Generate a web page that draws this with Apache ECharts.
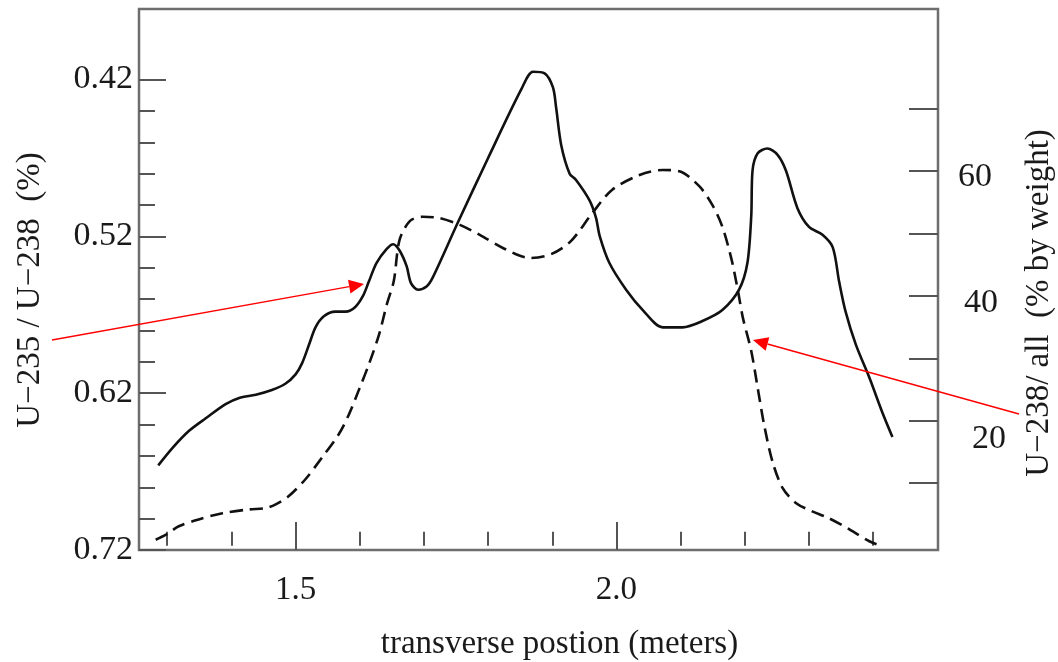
<!doctype html>
<html>
<head>
    <meta charset="utf-8">
    <title>U-235 / U-238 transverse profile</title>
    <style>
        html, body { margin: 0; padding: 0; background: #fff; }
        #chart { width: 1058px; height: 662px; }
    </style>
</head>
<body>
<div id="chart"></div>
<script src="https://cdn.jsdelivr.net/npm/echarts@6/dist/echarts.min.js"></script>
<script>
    // U-235 / U-238 ratio (solid line, left axis, inverted)
    var ratioX = [1.286, 1.308, 1.334, 1.360, 1.391, 1.412, 1.438, 1.463, 1.484, 1.500,
        1.510, 1.521, 1.531, 1.544, 1.562, 1.578, 1.593, 1.605, 1.614, 1.626,
        1.642, 1.652, 1.662, 1.673, 1.680, 1.691, 1.704, 1.714, 1.753, 1.800,
        1.852, 1.870, 1.888, 1.901, 1.906, 1.914, 1.927, 1.937, 1.958, 1.968,
        1.974, 1.989, 2.015, 2.041, 2.072, 2.103, 2.134, 2.165, 2.191, 2.204,
        2.210, 2.212, 2.220, 2.235, 2.251, 2.264, 2.282, 2.300, 2.321, 2.337,
        2.347, 2.357, 2.373, 2.394, 2.414, 2.430];
    var ratioY = [0.666, 0.655, 0.644, 0.636, 0.627, 0.623, 0.621, 0.618, 0.614, 0.608,
        0.601, 0.589, 0.578, 0.571, 0.568, 0.568, 0.565, 0.558, 0.549, 0.537,
        0.528, 0.525, 0.529, 0.539, 0.550, 0.554, 0.552, 0.546, 0.511, 0.470,
        0.426, 0.415, 0.416, 0.425, 0.438, 0.462, 0.480, 0.484, 0.497, 0.508,
        0.520, 0.537, 0.554, 0.567, 0.578, 0.578, 0.574, 0.567, 0.554, 0.537,
        0.507, 0.478, 0.467, 0.464, 0.468, 0.478, 0.502, 0.514, 0.519, 0.527,
        0.549, 0.568, 0.589, 0.610, 0.632, 0.648];

    // U-238 share of all, % by weight (dashed line, right axis)
    var shareX = [1.282, 1.298, 1.318, 1.349, 1.386, 1.427, 1.453, 1.469, 1.489, 1.515,
        1.541, 1.567, 1.583, 1.598, 1.614, 1.630, 1.642, 1.653, 1.662, 1.678,
        1.698, 1.724, 1.756, 1.787, 1.823, 1.865, 1.898, 1.929, 1.961, 1.993,
        2.036, 2.072, 2.098, 2.129, 2.150, 2.165, 2.179, 2.189, 2.197, 2.210,
        2.220, 2.230, 2.243, 2.259, 2.280, 2.305, 2.331, 2.363, 2.394, 2.407];
    var shareY = [0.95, 1.75, 3.1, 4.2, 5.2, 5.8, 6.0, 6.6, 7.9, 10.6,
        14.1, 17.8, 21.0, 24.8, 29.0, 33.8, 38.6, 42.4, 49.0, 52.0,
        52.7, 52.5, 51.4, 49.8, 47.7, 46.1, 46.7, 48.8, 53.1, 57.0,
        59.4, 60.2, 60.0, 57.6, 54.5, 51.1, 46.0, 41.0, 36.5, 31.2,
        25.3, 19.4, 13.5, 9.2, 6.8, 5.5, 4.4, 2.6, 0.7, 0.15];

    // ticks and labels
    var xTicks = [1.3, 1.4, 1.5, 1.6, 1.7, 1.8, 1.9, 2.0, 2.1, 2.2, 2.3, 2.4];
    var xLabels = [1.5, 2.0];
    var ratioTicks = [0.42, 0.44, 0.46, 0.48, 0.50, 0.52, 0.54, 0.56, 0.58, 0.60,
        0.62, 0.64, 0.66, 0.68, 0.70, 0.72];
    var ratioLabels = [0.42, 0.52, 0.62, 0.72];
    var shareTicks = [10, 20, 30, 40, 50, 60, 70];
    var shareLabels = [20, 40, 60];

    var FONT = 'Liberation Serif';
    var TXT = '#1a1a1a';
    var TICK = {color: '#555', width: 2};

    function pairs(xs, ys) {
        return xs.map(function (x, i) { return [x, ys[i]]; });
    }

    // red annotation arrow: line plus filled head at (x2, y2)
    function arrow(x1, y1, x2, y2) {
        var dx = x2 - x1, dy = y2 - y1;
        var len = Math.sqrt(dx * dx + dy * dy);
        var ux = dx / len, uy = dy / len;
        var bx = x2 - ux * 15, by = y2 - uy * 15;
        return [{
            type: 'line',
            shape: {x1: x1, y1: y1, x2: bx, y2: by},
            style: {stroke: '#ff0000', lineWidth: 1.4},
            z: 100
        }, {
            type: 'polygon',
            shape: {points: [[x2, y2], [bx - uy * 7, by + ux * 7], [bx + uy * 7, by - ux * 7]]},
            style: {fill: '#ff0000'},
            z: 100
        }];
    }

    var myChart = echarts.init(document.getElementById('chart'));
    var option = {
        backgroundColor: '#fff',
        animation: false,
        grid: {
            left: 139, right: 120, top: 9, bottom: 112,
            outerBoundsMode: 'none', containLabel: false,
            show: true, borderColor: '#6e6e6e', borderWidth: 2.5
        },
        xAxis: [{
            type: 'value', min: 1.256, max: 2.501, position: 'bottom',
            axisLine: {show: false}, splitLine: {show: false},
            axisTick: {show: true, inside: true, length: 14, customValues: xTicks, lineStyle: TICK},
            axisLabel: {show: false}
        }, {
            type: 'value', min: 1.256, max: 2.501, position: 'bottom',
            axisLine: {show: false}, splitLine: {show: false},
            axisTick: {show: true, inside: true, length: 28, customValues: xLabels, lineStyle: TICK},
            axisLabel: {
                customValues: xLabels, margin: 24,
                formatter: function (v) { return v.toFixed(1); },
                fontFamily: FONT, fontSize: 33, color: TXT
            },
            name: 'transverse postion (meters)', nameLocation: 'middle', nameGap: 78,
            nameTextStyle: {fontFamily: FONT, fontSize: 33, color: TXT, padding: [0, 0, 0, 42]}
        }],
        yAxis: [{
            type: 'value', min: 0.375, max: 0.72, inverse: true, position: 'left',
            axisLine: {show: false}, splitLine: {show: false},
            axisTick: {show: true, inside: true, length: 16, customValues: ratioTicks, lineStyle: TICK},
            axisLabel: {show: false}
        }, {
            type: 'value', min: 0.375, max: 0.72, inverse: true, position: 'left',
            axisLine: {show: false}, splitLine: {show: false},
            axisTick: {show: true, inside: true, length: 27, customValues: ratioLabels, lineStyle: TICK},
            axisLabel: {
                customValues: ratioLabels, margin: 6,
                formatter: function (v) { return v.toFixed(2); },
                fontFamily: FONT, fontSize: 34, color: TXT, padding: [8, 0, 0, 0]
            },
            name: 'U\u2212235 / U\u2212238  (%)', nameLocation: 'middle', nameGap: 92, nameRotate: 90,
            nameTextStyle: {fontFamily: FONT, fontSize: 33, color: TXT, padding: [0, 21, 0, 0]}
        }, {
            type: 'value', min: -0.7, max: 86, position: 'right',
            axisLine: {show: false}, splitLine: {show: false},
            axisTick: {show: true, inside: true, length: 29, customValues: shareTicks, lineStyle: TICK},
            axisLabel: {
                customValues: shareLabels, margin: 20,
                formatter: function (v) {
                    if (v === 20) return '{c|20}';
                    if (v === 40) return '{b|40}';
                    return '{a|' + v + '}';
                },
                fontFamily: FONT, fontSize: 34, color: TXT,
                rich: {
                    a: {fontFamily: FONT, fontSize: 34, color: TXT, padding: [12, 0, 0, 0]},
                    b: {fontFamily: FONT, fontSize: 34, color: TXT, padding: [14, 0, 0, 6]},
                    c: {fontFamily: FONT, fontSize: 34, color: TXT, padding: [36, 0, 0, 14]}
                }
            },
            name: 'U\u2212238/ all  (% by weight)', nameLocation: 'middle', nameGap: 85, nameRotate: 90,
            nameTextStyle: {fontFamily: FONT, fontSize: 33, color: TXT, padding: [0, 47, 0, 0]}
        }],
        series: [{
            name: 'U-235 / U-238',
            type: 'line', xAxisIndex: 0, yAxisIndex: 0,
            data: pairs(ratioX, ratioY),
            smooth: 0.3, showSymbol: false,
            lineStyle: {color: '#111', width: 2.6}
        }, {
            name: 'U-238 / all',
            type: 'line', xAxisIndex: 0, yAxisIndex: 2,
            data: pairs(shareX, shareY),
            smooth: 0.3, showSymbol: false,
            lineStyle: {color: '#111', width: 2.6, type: [13, 7]}
        }],
        graphic: arrow(52, 340, 364, 284).concat(arrow(1019, 414, 753, 340))
    };
    myChart.setOption(option);
</script>
</body>
</html>
